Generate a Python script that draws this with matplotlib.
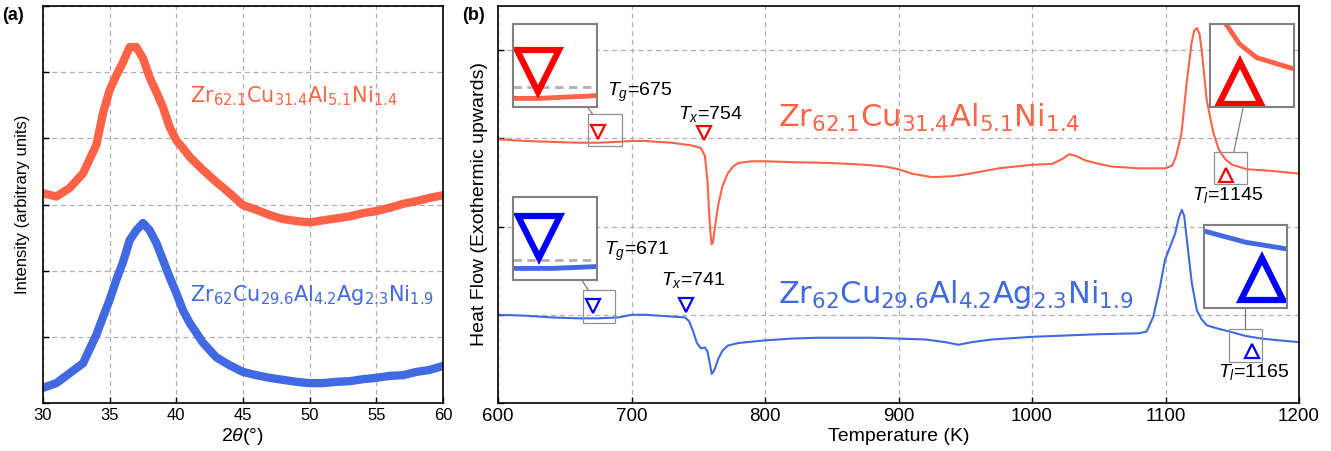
import matplotlib
matplotlib.use('Agg')
import matplotlib.pyplot as plt

plt.rcParams['font.family'] = ['Liberation Sans', 'DejaVu Sans']
plt.rcParams['mathtext.fontset'] = 'custom'
plt.rcParams['mathtext.rm'] = 'Liberation Sans'
plt.rcParams['mathtext.it'] = 'Liberation Sans:italic'
plt.rcParams['mathtext.bf'] = 'Liberation Sans:bold'

# ---- XRD data (panel a) ----
two_theta = [30.0, 31.0, 32.0, 33.0, 34.0, 34.5, 35.0, 35.5, 36.0, 36.5, 37.0, 37.5,
             38.0, 38.5, 39.0, 39.5, 40.0, 40.5, 41.0, 42.0, 43.0, 44.0, 45.0, 46.0,
             47.0, 48.0, 49.0, 50.0, 51.0, 52.0, 53.0, 54.0, 55.0, 56.0, 57.0, 58.0,
             59.0, 60.0]
xrd_zrcu = [3.17, 3.12, 3.25, 3.47, 3.90, 4.38, 4.73, 4.95, 5.15, 5.38, 5.38, 5.21,
            4.92, 4.70, 4.47, 4.17, 3.97, 3.85, 3.72, 3.52, 3.34, 3.17, 2.99, 2.92,
            2.84, 2.78, 2.75, 2.73, 2.76, 2.79, 2.82, 2.87, 2.90, 2.95, 3.01, 3.05,
            3.10, 3.14]
xrd_zrag = [0.23, 0.30, 0.45, 0.60, 1.03, 1.30, 1.56, 1.86, 2.13, 2.46, 2.61, 2.72,
            2.61, 2.42, 2.16, 1.90, 1.66, 1.40, 1.21, 0.91, 0.69, 0.57, 0.47, 0.42,
            0.38, 0.35, 0.32, 0.30, 0.30, 0.32, 0.33, 0.36, 0.38, 0.41, 0.42, 0.47,
            0.50, 0.56]

# ---- DSC data (panel b) ----
temp_zrcu = [600, 620, 640, 660, 675, 690, 700, 710, 730, 745, 752, 755, 757, 758,
             759, 760, 761, 763, 765, 768, 772, 776, 780, 790, 800, 820, 850, 875,
             890, 900, 910, 925, 940, 950, 975, 1000, 1015, 1022, 1028, 1033, 1040,
             1050, 1060, 1080, 1100, 1105, 1108, 1112, 1115.8, 1119.5, 1121.5, 1123.6,
             1125.5, 1127.1, 1130.9, 1135.9, 1140, 1145, 1150, 1161, 1180, 1200]
dsc_zrcu = [2.99, 2.97, 2.96, 2.95, 2.95, 2.96, 2.97, 2.97, 2.95, 2.92, 2.89, 2.80,
            2.50, 2.20, 1.95, 1.80, 1.82, 2.05, 2.25, 2.45, 2.60, 2.68, 2.72, 2.74,
            2.74, 2.73, 2.72, 2.70, 2.68, 2.65, 2.60, 2.56, 2.57, 2.59, 2.66, 2.70,
            2.71, 2.76, 2.82, 2.80, 2.75, 2.71, 2.68, 2.66, 2.66, 2.69, 2.80, 3.06,
            3.62, 4.08, 4.22, 4.25, 4.18, 4.00, 3.43, 3.06, 2.87, 2.76, 2.70, 2.65,
            2.63, 2.60]
temp_zrag = [600, 620, 640, 660, 675, 690, 700, 710, 730, 740, 743, 746, 749, 752,
             755, 757, 759, 760, 762, 765, 768, 772, 780, 800, 820, 840, 880, 900,
             920, 935, 945, 955, 970, 1000, 1050, 1080, 1085.9, 1090.9, 1095.9,
             1099.6, 1103.4, 1107.2, 1110, 1112.2, 1114, 1116, 1119.7, 1123.5, 1127,
             1131, 1140, 1148, 1160, 1172, 1185, 1200]
dsc_zrag = [1.00, 0.99, 0.97, 0.96, 0.96, 0.97, 1.00, 1.00, 0.98, 0.97, 0.93, 0.82,
            0.68, 0.62, 0.63, 0.58, 0.42, 0.33, 0.37, 0.50, 0.59, 0.65, 0.68, 0.71,
            0.73, 0.74, 0.74, 0.73, 0.72, 0.69, 0.66, 0.69, 0.72, 0.75, 0.78, 0.79,
            0.81, 0.98, 1.32, 1.62, 1.77, 1.92, 2.10, 2.19, 2.12, 1.85, 1.36, 1.05,
            0.95, 0.88, 0.84, 0.81, 0.76, 0.73, 0.71, 0.69]

# characteristic temperatures
tg_zrcu, tx_zrcu, tl_zrcu = 675, 754, 1145
tg_zrag, tx_zrag, tl_zrag = 671, 741, 1165

label_zrcu = r'Zr$_{62.1}$Cu$_{31.4}$Al$_{5.1}$Ni$_{1.4}$'
label_zrag = r'Zr$_{62}$Cu$_{29.6}$Al$_{4.2}$Ag$_{2.3}$Ni$_{1.9}$'

c_red = '#ff6347'
c_blue = '#4169e1'
grid_kw = dict(color='#b0b0b0', linestyle=(0, (4, 3)), linewidth=0.9)
formula_kw = dict(family='DejaVu Sans', math_fontfamily='dejavusans', va='baseline')

fig = plt.figure(figsize=(13.31, 4.51), dpi=100)
ax_a = fig.add_axes([43 / 1331, 48 / 451, 400 / 1331, 397 / 451])
ax_b = fig.add_axes([498 / 1331, 48 / 451, 801 / 1331, 397 / 451])

for ax in (ax_a, ax_b):
    ax.tick_params(direction='in', length=4, width=1)
    for s in ax.spines.values():
        s.set_linewidth(1.2)
    ax.grid(True, **grid_kw)
    ax.set_axisbelow(True)
ax_a.tick_params(labelsize=12)
ax_b.tick_params(labelsize=13.5)

# ---- panel (a) ----
ax_a.plot(two_theta, xrd_zrcu, color=c_red, lw=6)
ax_a.plot(two_theta, xrd_zrag, color=c_blue, lw=6)
ax_a.set_xticks(range(30, 61, 5))
ax_a.set_yticks(range(0, 7))
ax_a.set_yticklabels([])
ax_a.set_xlim(30, 60)
ax_a.set_ylim(0, 6)
ax_a.set_xlabel(r'2$\theta$(°)', fontsize=14, labelpad=2)
ax_a.set_ylabel('Intensity (arbitrary units)', fontsize=12, labelpad=6)
ax_a.text(41.0, 4.55, label_zrcu, color=c_red, fontsize=15, **formula_kw)
ax_a.text(41.0, 1.54, label_zrag, color=c_blue, fontsize=15, **formula_kw)
fig.text(2 / 1331, 1 - 15 / 451, '(a)', fontsize=13, fontweight='bold', va='center')

# ---- panel (b) ----
ax_b.plot(temp_zrcu, dsc_zrcu, color=c_red, lw=1.5)
ax_b.plot(temp_zrag, dsc_zrag, color=c_blue, lw=1.5)
ax_b.set_xticks(range(600, 1201, 100))
ax_b.set_yticks(range(0, 5))
ax_b.set_yticklabels([])
ax_b.set_xlim(600, 1200)
ax_b.set_ylim(0, 4.5)
ax_b.set_xlabel('Temperature (K)', fontsize=14, labelpad=2)
ax_b.set_ylabel('Heat Flow (Exothermic upwards)', fontsize=14, labelpad=4)
ax_b.text(809.7, 3.13, label_zrcu, color=c_red, fontsize=22, **formula_kw)
ax_b.text(809.7, 1.13, label_zrag, color=c_blue, fontsize=22, **formula_kw)
fig.text(462 / 1331, 1 - 15 / 451, '(b)', fontsize=13, fontweight='bold', va='center')

# markers: (T, y, colour, marker)
marks = [(tg_zrcu, 3.07, 'red', 'v'), (tx_zrcu, 3.06, 'red', 'v'),
         (tl_zrcu, 2.59, 'red', '^'),
         (tg_zrag, 1.10, 'blue', 'v'), (tx_zrag, 1.11, 'blue', 'v'),
         (tl_zrag, 0.59, 'blue', '^')]
for t, y, c, m in marks:
    ax_b.plot(t, y, marker=m, ms=10, mfc='none', mec=c, mew=1.6, ls='none')

ax_b.text(681.6, 3.48, r'$T_g$=%d' % tg_zrcu, fontsize=14, va='baseline')
ax_b.text(734.8, 3.22, r'$T_x$=%d' % tx_zrcu, fontsize=14, va='baseline')
ax_b.text(679.4, 1.68, r'$T_g$=%d' % tg_zrag, fontsize=14, va='baseline')
ax_b.text(722.1, 1.34, r'$T_x$=%d' % tx_zrag, fontsize=14, va='baseline')
ax_b.text(1119.9, 2.30, r'$T_l$=%d' % tl_zrcu, fontsize=14, va='baseline')
ax_b.text(1139.3, 0.29, r'$T_l$=%d' % tl_zrag, fontsize=14, va='baseline')

# zoom boxes: (small box x0, x1, y0, y1), (inset x0, x1, y0, y1), series, marker
zooms = [((667.4, 692.9, 2.91, 3.28), (611.2, 674.2, 3.35, 4.30), 0, 0),
         ((663.7, 687.6, 0.906, 1.28), (611.2, 674.2, 1.39, 2.33), 1, 3),
         ((1136.3, 1161.0, 2.48, 2.85), (1133.3, 1196.3, 3.35, 4.30), 0, 2),
         ((1147.6, 1172.3, 0.46, 0.84), (1128.8, 1191.0, 1.08, 2.02), 1, 5)]
series = [(temp_zrcu, dsc_zrcu, c_red), (temp_zrag, dsc_zrag, c_blue)]

for box, ibox, si, mi in zooms:
    bx0, bx1, by0, by1 = box
    ix0, ix1, iy0, iy1 = ibox
    ax_b.add_patch(plt.Rectangle((bx0, by0), bx1 - bx0, by1 - by0, fill=False,
                                 ec='#909090', lw=0.9, zorder=3))
    # connector between centres, from inset bottom edge to box top edge
    icx, icy = (ix0 + ix1) / 2, (iy0 + iy1) / 2
    bcx, bcy = (bx0 + bx1) / 2, (by0 + by1) / 2
    f1 = (icy - iy0) / (icy - bcy)
    f2 = (icy - by1) / (icy - bcy)
    ax_b.plot([icx + f1 * (bcx - icx), icx + f2 * (bcx - icx)], [iy0, by1],
              color='#707070', lw=0.8, zorder=3)

    ins = ax_b.inset_axes([ix0, iy0, ix1 - ix0, iy1 - iy0], transform=ax_b.transData)
    tx, ty, tc = series[si]
    ins.plot(tx, ty, color=tc, lw=3.5)
    t, y, c, m = marks[mi]
    ins.plot(t, y, marker=m, ms=30, mfc='none', mec=c, mew=4.5, ls='none')
    ins.set_xticks(range(600, 1201, 100))
    ins.set_yticks(range(0, 5))
    ins.set_xlim(bx0, bx1)
    ins.set_ylim(by0, by1)
    ins.tick_params(length=0, labelleft=False, labelbottom=False)
    ins.grid(True, color='#b0b0b0', linestyle=(0, (3, 2)), linewidth=2)
    ins.set_axisbelow(True)
    for s in ins.spines.values():
        s.set_color('#808080')
        s.set_linewidth(1.5)

fig.savefig('out.png', dpi=100)
